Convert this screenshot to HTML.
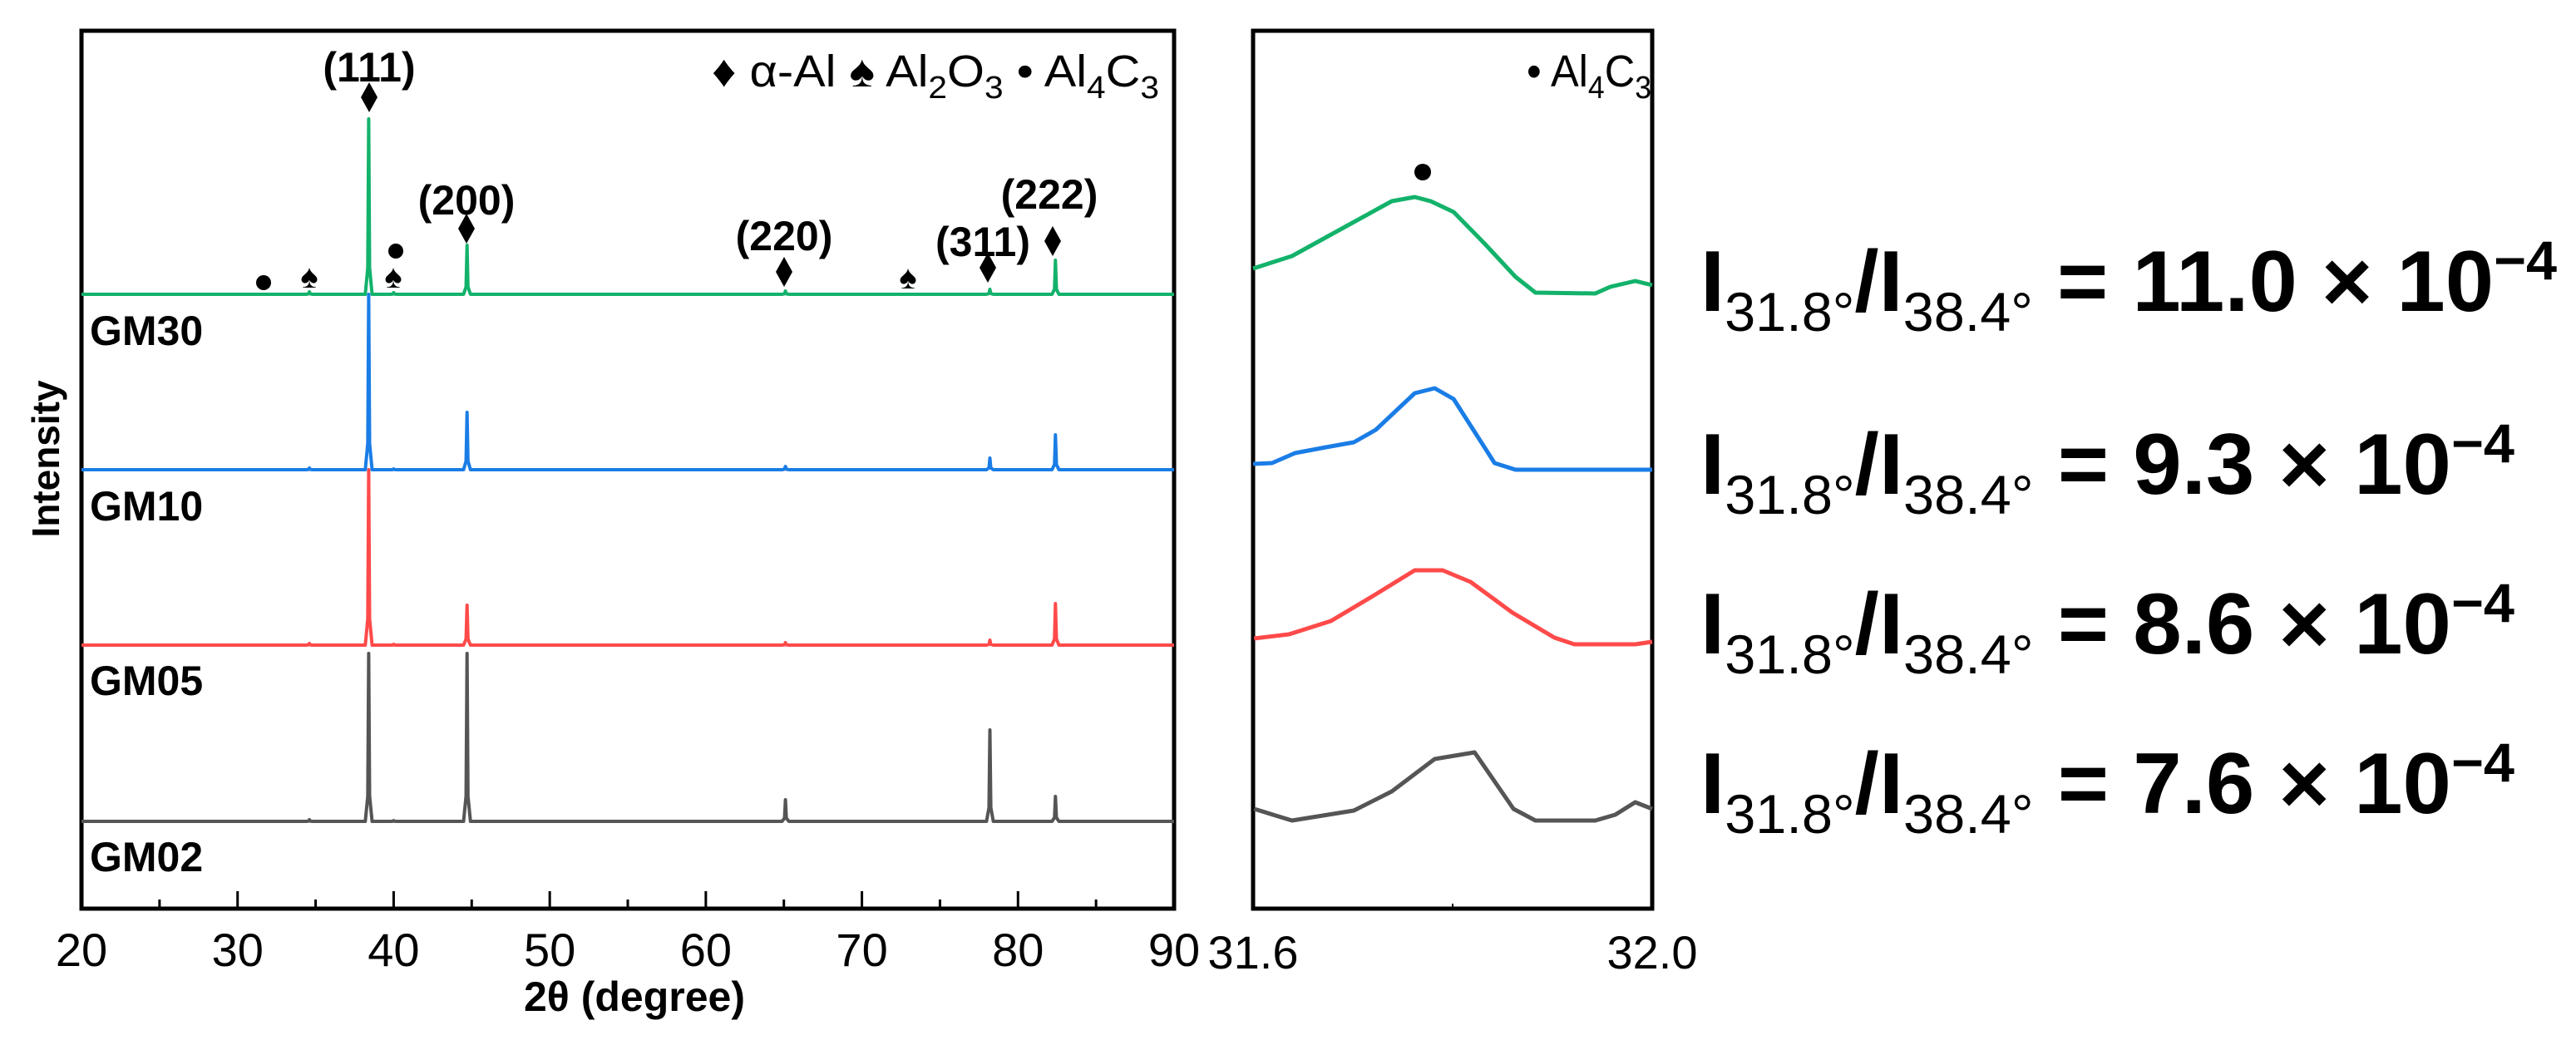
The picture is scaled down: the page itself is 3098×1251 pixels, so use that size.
<!DOCTYPE html>
<html><head><meta charset="utf-8">
<style>
html,body{margin:0;padding:0;background:#fff;}
svg{display:block;}
text{font-family:"Liberation Sans",Arial,sans-serif;}
</style></head>
<body>
<svg id="chart" width="3098" height="1251" viewBox="0 0 3098 1251" xmlns="http://www.w3.org/2000/svg">
  <g id="main"></g>
  <g id="inset"></g>
  <g id="ratios"></g>
</svg>
<script>
// ---------- data ----------
const sampleNames = ["GM30", "GM10", "GM05", "GM02"];
const seriesColors = ["#13b26b", "#1a7de6", "#ff4a4a", "#555555"];
const peakPositions = [34.6, 38.4, 40.0, 44.7, 65.1, 78.2, 82.4];
const heightsGM30 = [3, 211, 2, 59, 4, 6, 41];
const heightsGM10 = [2, 211, 1, 69, 4, 14, 42];
const heightsGM05 = [2, 211, 1, 48, 3, 6, 50];
const heightsGM02 = [2, 202, 1, 202, 26, 110, 30];
const seriesOffsets = [634, 423, 212, 0];   // vertical stacking offsets (a.u.)
const xTicksMajor = [20, 30, 40, 50, 60, 70, 80, 90];
const xTicksMinor = [25, 35, 45, 55, 65, 75, 85];
const millerLabels = ["(111)", "(200)", "(220)", "(311)", "(222)"];
const insetTickValues = [31.6, 32.0];
const insetTickLabels = ["31.6", "32.0"];
const insetXGM30 = [31.600,31.639,31.692,31.739,31.762,31.778,31.801,31.832,31.863,31.883,31.943,31.958,31.983,32.0];
const insetYGM30 = [37,52,87,118,123,118,105,67,27,8,7,15,22,17];
const insetXGM10 = [31.600,31.619,31.642,31.673,31.701,31.723,31.762,31.782,31.801,31.842,31.863,32.0];
const insetYGM10 = [14,15,27,34,40,55,99,105,92,15,7,7];
const insetXGM05 = [31.601,31.636,31.678,31.720,31.762,31.790,31.818,31.860,31.902,31.922,31.983,32.0];
const insetYGM05 = [18,23,39,69,100,100,86,49,19,11,11,14];
const insetXGM02 = [31.601,31.639,31.701,31.739,31.782,31.822,31.861,31.883,31.943,31.963,31.983,32.0];
const insetYGM02 = [27,13,25,48,87,95,27,13,13,20,35,27];
const ratioValues = ["11.0", "9.3", "8.6", "7.6"];

// ---------- helpers ----------
const NS = "http://www.w3.org/2000/svg";
function mk(tag, attrs, parent) {
  const e = document.createElementNS(NS, tag);
  for (const k in attrs) e.setAttribute(k, attrs[k]);
  parent.appendChild(e);
  return e;
}
const main = document.getElementById("main");
const inset = document.getElementById("inset");
const ratios = document.getElementById("ratios");

// main axes
const MX0 = 98, MX1 = 1412, MY0 = 37, MY1 = 1093;
const X_MIN = 20, X_MAX = 90;
function xMain(d) { return MX0 + (d - X_MIN) * (MX1 - MX0) / (X_MAX - X_MIN); }
const Y_ZERO = 988;
function yMain(v) { return Y_ZERO - v; }

const frame = mk("rect", {x: MX0, y: MY0, width: MX1 - MX0, height: MY1 - MY0, fill: "none", stroke: "#000", "stroke-width": 5}, main);



xTicksMajor.forEach(t => {
  const l = mk("line", {x1: xMain(t), x2: xMain(t), y1: MY1, y2: MY1 - 21, stroke: "#000", "stroke-width": 3}, main);
  
  
  const tx = mk("text", {x: xMain(t), y: 1162, "font-size": 56, "text-anchor": "middle"}, main);
  tx.textContent = t;
  
  
});
xTicksMinor.forEach(t => {
  const l = mk("line", {x1: xMain(t), x2: xMain(t), y1: MY1, y2: MY1 - 11, stroke: "#000", "stroke-width": 3}, main);
  
  
});

const xl = mk("text", {x: 763, y: 1216, "font-size": 50, "font-weight": "bold", "text-anchor": "middle"}, main);
xl.textContent = "2θ (degree)";



const yl = mk("text", {x: 0, y: 0, "font-size": 46, "font-weight": "bold", "text-anchor": "middle", transform: "translate(71,552) rotate(-90)"}, main);
yl.textContent = "Intensity";



const allHeights = [heightsGM30, heightsGM10, heightsGM05, heightsGM02];
const labelY = [397, 608, 818, 1030];
const lineOrder = [3, 2, 1, 0];
lineOrder.forEach(i => {
  const off = seriesOffsets[i];
  const h = allHeights[i];
  let pts = [[X_MIN, 0]];
  peakPositions.forEach((p, k) => {
    pts.push([p - 0.22, 0]);
    pts.push([p - 0.06, h[k] * 0.15]);
    pts.push([p, h[k]]);
    pts.push([p + 0.06, h[k] * 0.15]);
    pts.push([p + 0.22, 0]);
  });
  pts.push([X_MAX, 0]);
  const d = pts.map(q => xMain(q[0]).toFixed(1) + "," + yMain(off + q[1]).toFixed(1)).join(" ");
  const pl = mk("polyline", {points: d, fill: "none", stroke: seriesColors[i], "stroke-width": 4, "stroke-linejoin": "round"}, main);
  
  
  const lb = mk("text", {x: 108, y: labelY[i] + 18, "font-size": 50, "font-weight": "bold"}, main);
  lb.textContent = sampleNames[i];
  
  
});

function diamond(cx, cy, w, h, name) {
  const p = mk("polygon", {points: `${cx},${cy-h} ${cx+w},${cy} ${cx},${cy+h} ${cx-w},${cy}`, fill: "#000"}, main);
  
  
}
function spade(cx, cy, name) {
  const t = mk("text", {x: cx, y: cy + 14, "font-size": 40, "text-anchor": "middle", "font-family": "DejaVu Sans, sans-serif"}, main);
  t.textContent = "♠";
  
  
}
function dot(g, cx, cy, r, name) {
  const c = mk("circle", {cx: cx, cy: cy, r: r, fill: "#000"}, g);
  
  
}
const millerX = [444, 561, 943, 1182, 1262];
const millerYtext = [98, 258, 301, 308, 251];
millerLabels.forEach((s, k) => {
  const t = mk("text", {x: millerX[k], y: millerYtext[k], "font-size": 50, "font-weight": "bold", "text-anchor": "middle"}, main);
  t.textContent = s;
  
  
});
diamond(444, 117, 10, 18, 'alpha-al-marker');
diamond(561, 275, 10, 18, 'alpha-al-marker');
diamond(943, 327, 10, 18, 'alpha-al-marker');
diamond(1188, 322, 10, 18, 'alpha-al-marker');
diamond(1266, 290, 10, 18, 'alpha-al-marker');
spade(372, 332, 'al2o3-marker');
spade(473, 332, 'al2o3-marker');
spade(1092, 333, 'al2o3-marker');
dot(main, 317, 340, 9, 'al4c3-marker');
dot(main, 476, 302, 9, 'al4c3-marker');

const lg = mk("text", {x: 856, y: 104, "font-size": 54, textLength: 538, lengthAdjust: "spacingAndGlyphs"}, main);


lg.innerHTML = '♦ α-Al ♠ Al<tspan font-size="38" dy="14">2</tspan><tspan dy="-14">O</tspan><tspan font-size="38" dy="14">3</tspan><tspan dy="-14"> • Al</tspan><tspan font-size="38" dy="14">4</tspan><tspan dy="-14">C</tspan><tspan font-size="38" dy="14">3</tspan>';

// ---------- inset ----------
const IX0 = 1507, IX1 = 1987;
const I_MIN = 31.6, I_MAX = 32.0;
function xIn(d) { return IX0 + (d - I_MIN) * (IX1 - IX0) / (I_MAX - I_MIN); }
const inBase = [360, 572, 786, 1000];
function yIn(i, v) { return inBase[i] - v; }
const iframe = mk("rect", {x: IX0, y: MY0, width: IX1 - IX0, height: MY1 - MY0, fill: "none", stroke: "#000", "stroke-width": 5}, inset);


const mt = mk("line", {x1: xIn(31.8), x2: xIn(31.8), y1: MY1, y2: MY1 - 6, stroke: "#000", "stroke-width": 2}, inset);


insetTickValues.forEach((v, k) => {
  const t = mk("text", {x: xIn(v), y: 1165, "font-size": 56, "text-anchor": "middle"}, inset);
  t.textContent = insetTickLabels[k];
  
  
});
const insetXs = [insetXGM30, insetXGM10, insetXGM05, insetXGM02];
const insetYs = [insetYGM30, insetYGM10, insetYGM05, insetYGM02];
[0, 1, 2, 3].forEach(i => {
  const d = insetXs[i].map((x, k) => xIn(x).toFixed(1) + "," + yIn(i, insetYs[i][k]).toFixed(1)).join(" ");
  const pl = mk("polyline", {points: d, fill: "none", stroke: seriesColors[i], "stroke-width": 5, "stroke-linejoin": "round"}, inset);
  
  
});
dot(inset, 1711, 207, 10, 'inset-al4c3-marker');
const ilg = mk("text", {x: 1836, y: 104, "font-size": 54, textLength: 150, lengthAdjust: "spacingAndGlyphs"}, inset);


ilg.innerHTML = '• Al<tspan font-size="38" dy="14">4</tspan><tspan dy="-14">C</tspan><tspan font-size="38" dy="14">3</tspan>';

// ---------- ratio texts ----------
const ratioBase = [374, 594, 786, 978];
const ratioEnd = [3075, 3024, 3024, 3024];
ratioValues.forEach((v, k) => {
  const t = mk("text", {x: 2045, y: ratioBase[k], "font-size": 104, "font-weight": "bold", textLength: ratioEnd[k] - 2045, lengthAdjust: "spacingAndGlyphs"}, ratios);
  
  
  t.innerHTML = 'I<tspan font-size="66" font-weight="normal" dy="24">31.8°</tspan><tspan dy="-24">/I</tspan><tspan font-size="66" font-weight="normal" dy="24">38.4°</tspan><tspan dy="-24"> = ' + v + ' × 10</tspan><tspan font-size="66" dy="-38">−4</tspan>';
});
</script>
</body></html>
